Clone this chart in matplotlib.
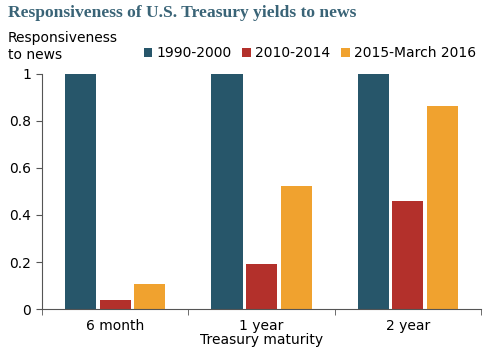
import numpy as np
import matplotlib
matplotlib.use('Agg')
import matplotlib.pyplot as plt

# Datos
categorias = ['6 month', '1 year', '2 year']
series = ['1990-2000', '2010-2014', '2015-March 2016']
v_1990 = [1.0, 1.0, 1.0]
v_2010 = [0.038, 0.19, 0.46]
v_2015 = [0.106, 0.525, 0.865]
colores = ['#27566a', '#b3302b', '#f0a22f']

plt.rcParams['font.family'] = 'DejaVu Sans'

fig = plt.figure(figsize=(4.88, 3.49), dpi=100)
ax = fig.add_axes([0.086, 0.1146, 0.9, 0.6734])

x = np.arange(len(categorias))
ancho = 0.212
paso = 0.236
valores = [v_1990, v_2010, v_2015]
for i, (nombre, v) in enumerate(zip(series, valores)):
    ax.bar(x + (i - 1) * paso, v, width=ancho, color=colores[i], label=nombre)

ax.set_xlim(-0.5, 2.5)
ax.set_ylim(0, 1)
ax.set_yticks([0, 0.2, 0.4, 0.6, 0.8, 1])
ax.set_yticklabels(['0', '0.2', '0.4', '0.6', '0.8', '1'])
ax.set_xticks(x)
ax.set_xticklabels(categorias)
ax.set_xticks([-0.5, 0.5, 1.5, 2.5], minor=True)
ax.tick_params(axis='x', which='major', length=0, labelsize=10, pad=7)
ax.tick_params(axis='x', which='minor', length=4, color='#555555')
ax.tick_params(axis='y', length=4, labelsize=10, color='#555555', pad=4)
ax.spines['top'].set_visible(False)
ax.spines['right'].set_visible(False)
ax.spines['left'].set_color('#555555')
ax.spines['bottom'].set_color('#555555')
ax.set_xlabel('Treasury maturity', fontsize=10, labelpad=0)

fig.text(0.016, 0.963, 'Responsiveness of U.S. Treasury yields to news',
         fontsize=12.6, fontweight='bold', family='Liberation Serif',
         color='#3a6477', va='center')
fig.text(0.016, 0.867, 'Responsiveness\nto news', fontsize=10, va='center',
         linespacing=1.3)

fig.legend(loc='center left', bbox_to_anchor=(0.28, 0.848), ncol=3,
           frameon=False, fontsize=10, handlelength=0.6, handleheight=0.6,
           handletextpad=0.3, columnspacing=0.8, borderpad=0)

fig.savefig('out.png', dpi=100)
